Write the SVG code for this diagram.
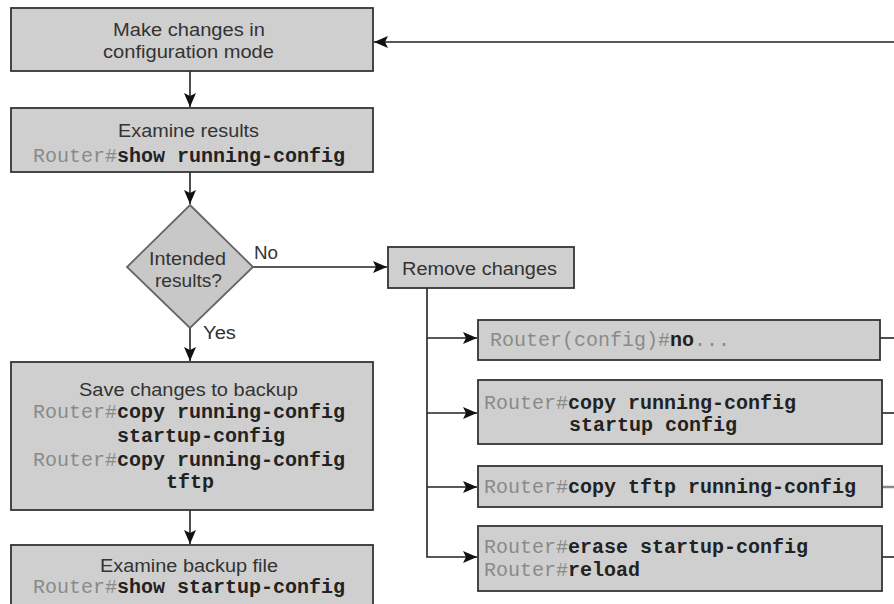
<svg xmlns="http://www.w3.org/2000/svg" width="894" height="604" viewBox="0 0 894 604">
<style>
.box{fill:#cfcfcf;stroke:#333;stroke-width:1.8}
.dia{fill:#c8c8c8;stroke:#666;stroke-width:1.8}
.s{font-family:"Liberation Sans",Arial,sans-serif;font-size:17.5px;fill:#333}
.m{font-family:"Liberation Mono","Courier New",monospace;font-size:20px}
.p{fill:#8a8a8a}
.c{fill:#222;font-weight:bold}
.ln{stroke:#222;stroke-width:1.6;fill:none}
</style>
<defs>
<marker id="ah" markerUnits="userSpaceOnUse" markerWidth="14" markerHeight="12" refX="14" refY="6" orient="auto">
<path d="M0,0 L14,6 L0,12 L3,6 z" fill="#111"/>
</marker>
</defs>
<rect width="894" height="604" fill="#fff"/>
<g id="connectors">
<line class="ln" x1="894" y1="42" x2="374" y2="42" marker-end="url(#ah)"/>
<line class="ln" x1="190" y1="71" x2="190" y2="107" marker-end="url(#ah)"/>
<line class="ln" x1="190" y1="172" x2="190" y2="204" marker-end="url(#ah)"/>
<line class="ln" x1="253" y1="267" x2="387" y2="267" marker-end="url(#ah)"/>
<line class="ln" x1="190" y1="328" x2="190" y2="361" marker-end="url(#ah)"/>
<line class="ln" x1="190" y1="510" x2="190" y2="544" marker-end="url(#ah)"/>
<polyline class="ln" points="427,288 427,557 477,557" marker-end="url(#ah)"/>
<line class="ln" x1="427" y1="338" x2="477" y2="338" marker-end="url(#ah)"/>
<line class="ln" x1="427" y1="413" x2="477" y2="413" marker-end="url(#ah)"/>
<line class="ln" x1="427" y1="487" x2="477" y2="487" marker-end="url(#ah)"/>
<line class="ln" x1="880" y1="338" x2="894" y2="338"/>
<line class="ln" x1="882" y1="413" x2="894" y2="413"/>
<line x1="882" y1="487" x2="894" y2="487" stroke="#888" stroke-width="2.5"/>
<line class="ln" x1="882" y1="557" x2="894" y2="557"/>
</g>
<g id="make-changes">
<rect class="box" x="11" y="8" width="362" height="63"/>
<text class="s" x="189" y="35.5" text-anchor="middle" textLength="152" lengthAdjust="spacingAndGlyphs">Make changes in</text>
<text class="s" x="188.5" y="58" text-anchor="middle" textLength="171" lengthAdjust="spacingAndGlyphs">configuration mode</text>
</g>
<g id="examine-results">
<rect class="box" x="11" y="108" width="362" height="64"/>
<text class="s" x="188.5" y="137" text-anchor="middle" textLength="141" lengthAdjust="spacingAndGlyphs">Examine results</text>
<text class="m" x="33" y="162"><tspan class="p">Router#</tspan><tspan class="c">show running-config</tspan></text>
</g>
<g id="decision">
<polygon class="dia" points="190,205 253,267 190,328 127,267"/>
<text class="s" x="187.5" y="265" text-anchor="middle" textLength="77" lengthAdjust="spacingAndGlyphs">Intended</text>
<text class="s" x="188.5" y="287" text-anchor="middle" textLength="67" lengthAdjust="spacingAndGlyphs">results?</text>
<text class="s" x="254" y="259" textLength="24" lengthAdjust="spacingAndGlyphs">No</text>
<text class="s" x="203" y="339" textLength="33" lengthAdjust="spacingAndGlyphs">Yes</text>
</g>
<g id="save-backup">
<rect class="box" x="11" y="362" width="362" height="148"/>
<text class="s" x="188.5" y="396" text-anchor="middle" textLength="219" lengthAdjust="spacingAndGlyphs">Save changes to backup</text>
<text class="m" x="33" y="418"><tspan class="p">Router#</tspan><tspan class="c">copy running-config</tspan></text>
<text class="m c" x="117" y="442">startup-config</text>
<text class="m" x="33" y="466"><tspan class="p">Router#</tspan><tspan class="c">copy running-config</tspan></text>
<text class="m c" x="166" y="488">tftp</text>
</g>
<g id="examine-backup">
<rect class="box" x="11" y="545" width="362" height="70"/>
<text class="s" x="189" y="572" text-anchor="middle" textLength="178" lengthAdjust="spacingAndGlyphs">Examine backup file</text>
<text class="m" x="33" y="593"><tspan class="p">Router#</tspan><tspan class="c">show startup-config</tspan></text>
</g>
<g id="remove-changes">
<rect class="box" x="388" y="247" width="186" height="41"/>
<text class="s" x="402" y="275" textLength="155" lengthAdjust="spacingAndGlyphs">Remove changes</text>
</g>
<g id="opt-no">
<rect class="box" x="478" y="320" width="402" height="40"/>
<text class="m" x="490" y="346"><tspan class="p">Router(config)#</tspan><tspan class="c">no</tspan><tspan class="p">...</tspan></text>
</g>
<g id="opt-copy-startup">
<rect class="box" x="478" y="380" width="404" height="64"/>
<text class="m" x="484" y="409"><tspan class="p">Router#</tspan><tspan class="c">copy running-config</tspan></text>
<text class="m c" x="569" y="431">startup config</text>
</g>
<g id="opt-copy-tftp">
<rect class="box" x="478" y="466" width="404" height="41"/>
<text class="m" x="484" y="493"><tspan class="p">Router#</tspan><tspan class="c">copy tftp running-config</tspan></text>
</g>
<g id="opt-erase">
<rect class="box" x="478" y="526" width="404" height="65"/>
<text class="m" x="484" y="553"><tspan class="p">Router#</tspan><tspan class="c">erase startup-config</tspan></text>
<text class="m" x="484" y="576"><tspan class="p">Router#</tspan><tspan class="c">reload</tspan></text>
</g>
</svg>
